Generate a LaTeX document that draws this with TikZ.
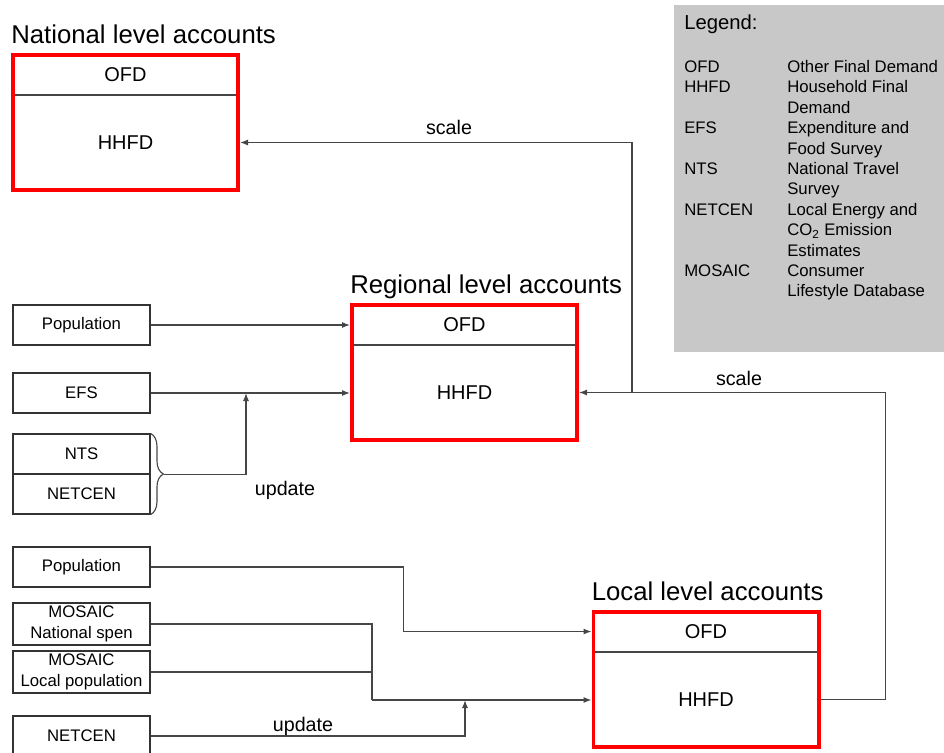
\documentclass[tikz,border=0pt]{standalone}
\usepackage{fontspec}
\setmainfont{Liberation Sans}
\usetikzlibrary{positioning,calc,arrows.meta,decorations.pathreplacing}
\definecolor{legendgray}{RGB}{200,200,200}
\definecolor{linegray}{RGB}{70,70,70}

\begin{document}
\begin{tikzpicture}[
            x=0.025cm, y=-0.025cm,
            acct box/.style={draw=red,line width=2.8pt,minimum width=5.625cm,minimum height=3.375cm,inner sep=0pt},
            title node/.style={anchor=base west,inner sep=0pt,font=\fontsize{18.3}{22}\selectfont},
            part node/.style={font=\fontsize{14.2}{17}\selectfont},
            src box/.style={draw=black!80,line width=0.8pt,minimum width=3.425cm,minimum height=1cm,inner sep=1pt,align=center,font=\fontsize{11.9}{14.5}\selectfont},
            divider/.style={draw=linegray,line width=0.8pt,shorten <=2.8pt,shorten >=2.8pt},
            flow/.style={draw=linegray,line width=0.8pt},
            flow arrow/.style={flow,-{Latex[length=2mm,width=1.5mm]}},
            flow label/.style={anchor=base,inner sep=0pt,font=\fontsize{14}{17}\selectfont},
            legend text/.style={anchor=base west,inner sep=0pt,font=\fontsize{11.9}{14.5}\selectfont},
        ]
            \useasboundingbox (0,0) rectangle (944,753);

            % legend
            \fill[legendgray] (674,5) rectangle (944,352);
            \node[legend text,font=\fontsize{14.4}{17}\selectfont] (legtitle) at (684,30) {Legend:};
            \foreach \ab/\txt [count=\i] in {OFD/Other Final Demand,HHFD/Household Final,/Demand,EFS/Expenditure and,/Food Survey,NTS/National Travel,/Survey,NETCEN/Local Energy and,/CO\textsubscript{2} Emission,/Estimates,MOSAIC/Consumer,/Lifestyle Database}{
                \node[legend text] (legab\i) at (684,{72.5+20.4*(\i-1)}) {\ab};
                \node[legend text] (legtxt\i) at (787,{72.5+20.4*(\i-1)}) {\txt};
            }

            % account boxes
            \foreach \n/\x/\y/\t in {nat/125.5/122.5/National,reg/464.5/372.5/Regional,loc/706/679.5/Local}{
                \node[acct box] (\n-box) at (\x,\y) {};
                \node[title node] (\n-title) at ($(\n-box.north west)+(0,-9.6)$) {\t\ level accounts};
                \node[part node] (\n-ofd) at ($(\n-box.north)+(0,21.5)$) {OFD};
                \node[part node] (\n-hhfd) at ($(\n-box.north)+(0,89.5)$) {HHFD};
                \draw[divider] ($(\n-box.north west)+(0,42)$) -- ($(\n-box.north east)+(0,42)$);
            }

            % data sources
            \node[src box] (popreg) at (81.5,325) {Population};
            \node[src box] (efs) at (81.5,393) {EFS};
            \node[src box] (nts) at (81.5,454) {NTS};
            \node[src box] (netreg) at (81.5,494) {NETCEN};
            \node[src box] (poploc) at (81.5,567) {Population};
            \node[src box,minimum height=1.05cm] (mosnat) at (81.5,624) {MOSAIC\\National spen};
            \node[src box,minimum height=1.05cm] (mosloc) at (81.5,672) {MOSAIC\\Local population};
            \node[src box] (netloc) at (81.5,736) {NETCEN};

            % regional inputs
            \draw[flow arrow] (popreg) -- (popreg -| reg-box.west);
            \draw[flow arrow] (efs) -- (efs -| reg-box.west);
            \draw[flow,decorate,decoration={brace,amplitude=0.32cm}] (nts.north east) -- (netreg.south east);
            \coordinate (bracetip) at ($(nts.south east)+(13,0)$);
            \coordinate (efsjoin) at (246,393);
            \draw[flow arrow] (bracetip) -| (efsjoin);
            \node[flow label] (upreg) at (285,495) {update};

            % local inputs
            \draw[flow arrow] (poploc.east) -- ++(253,0) |- (loc-ofd -| loc-box.west);
            \coordinate (mosjoin) at (372,700);
            \draw[flow] (mosnat.east) -| (mosjoin);
            \draw[flow] (mosloc.east) -| (mosjoin);
            \draw[flow arrow] (mosjoin) -- (mosjoin -| loc-box.west);
            \coordinate (netjoin) at (465,700);
            \draw[flow arrow] (netloc.east) -| (netjoin);
            \node[flow label] (uploc) at (303,731) {update};

            % scaling
            \draw[flow arrow] (loc-hhfd -| loc-box.east) -- ++(65,0) |- (reg-hhfd -| reg-box.east);
            \coordinate (natjoin) at ($(reg-hhfd -| reg-box.east)+(53,0)$);
            \draw[flow arrow] (natjoin) |- (nat-hhfd -| nat-box.east);
            \node[flow label] (scalenat) at (449,135) {scale};
            \node[flow label] (scalereg) at (739,385) {scale};
        \end{tikzpicture}
\end{document}
